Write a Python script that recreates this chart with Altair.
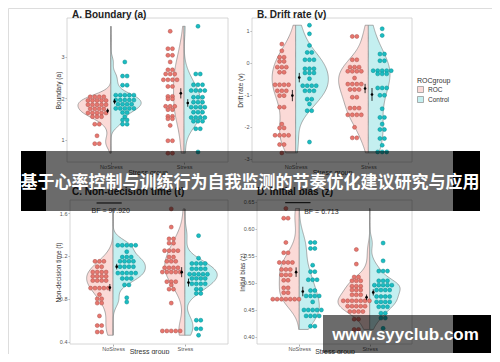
import altair as alt
import pandas as pd

W, H = 484, 346
STRESS = ["NoStress", "Stress"]
GROUPS = ["ROC", "Control"]
XDOM = [0.4, 2.6]

# ---- data: dot rows (value) and number of dots in each row ----
# Panel A: Boundary (a)
A_NS_ROC_V = [2.03, 1.94, 1.84, 1.74, 1.64, 1.55, 1.37, 1.09, 0.90]
A_NS_ROC_N = [4, 5, 5, 4, 5, 3, 2, 1, 2]
A_NS_CTL_V = [2.87, 2.53, 2.31, 2.07, 1.95, 1.85, 1.75, 1.65, 1.55, 1.47, 1.37]
A_NS_CTL_N = [1, 2, 2, 5, 5, 4, 5, 2, 1, 2, 2]
A_S_ROC_V = [3.61, 3.19, 3.03, 2.87, 2.68, 2.58, 2.44, 2.28, 2.04, 1.98, 1.80, 1.72, 1.56, 1.50, 1.34, 0.97, 0.67]
A_S_ROC_N = [1, 2, 2, 1, 2, 3, 4, 2, 2, 2, 3, 2, 2, 2, 1, 2, 2]
A_S_CTL_V = [3.73, 2.58, 2.32, 2.18, 2.02, 1.90, 1.78, 1.66, 1.53, 1.44, 1.26, 0.70]
A_S_CTL_N = [1, 2, 3, 4, 3, 3, 4, 3, 4, 3, 2, 1]

# Panel B: Drift rate (v)
B_NS_ROC_V = [0.59, 0.38, 0.18, 0.05, -0.13, -0.29, -0.68, -0.87, -1.02, -1.38, -1.91, -2.03, -2.26, -2.55, -2.81]
B_NS_ROC_N = [1, 1, 2, 2, 3, 2, 4, 3, 2, 2, 1, 2, 4, 2, 1]
B_NS_CTL_V = [1.18, 0.91, 0.55, 0.33, 0.10, -0.18, -0.31, -0.49, -0.71, -0.87, -1.13, -1.28, -1.49, -2.47]
B_NS_CTL_N = [1, 1, 1, 2, 3, 3, 3, 1, 4, 3, 2, 1, 2, 1]
B_S_ROC_V = [0.83, 0.10, -0.13, -0.26, -0.47, -0.66, -0.83, -1.07, -1.41, -1.62, -2.01, -2.34]
B_S_ROC_N = [2, 2, 3, 4, 1, 4, 3, 2, 3, 4, 1, 2]
B_S_CTL_V = [1.07, 0.86, 0.28, 0.07, -0.24, -0.34, -0.78, -1.01, -1.43, -1.70, -1.91, -2.08, -2.36, -2.57, -2.78]
B_S_CTL_N = [1, 1, 2, 2, 5, 3, 3, 2, 1, 2, 1, 2, 2, 1, 3]

# Panel C: Non-decision time (t)
C_NS_ROC_V = [1.15, 1.10, 1.05, 1.01, 0.97, 0.90, 0.84, 0.80, 0.76, 0.64, 0.55, 0.49]
C_NS_ROC_N = [3, 2, 4, 4, 4, 5, 1, 2, 2, 1, 2, 2]
C_NS_CTL_V = [1.30, 1.24, 1.19, 1.15, 1.10, 1.04, 0.99, 0.93, 0.81, 0.77]
C_NS_CTL_N = [5, 1, 3, 4, 4, 5, 3, 2, 1, 1]
C_S_ROC_V = [1.64, 1.47, 1.36, 1.32, 1.25, 1.19, 1.15, 1.09, 1.05, 0.96, 0.93, 0.89, 0.76, 0.50]
C_S_ROC_N = [1, 1, 2, 2, 4, 2, 3, 4, 5, 3, 1, 2, 1, 5]
C_S_CTL_V = [1.39, 1.18, 1.13, 1.08, 1.03, 0.99, 0.94, 0.89, 0.85, 0.60, 0.52, 0.46]
C_S_CTL_N = [1, 1, 4, 4, 5, 4, 4, 2, 2, 2, 2, 1]

# Panel D: Initial bias (z)
D_NS_ROC_V = [0.638, 0.620, 0.575, 0.556, 0.538, 0.525, 0.515, 0.505, 0.491, 0.482, 0.470]
D_NS_ROC_N = [1, 2, 1, 2, 4, 3, 3, 2, 2, 2, 7]
D_NS_CTL_V = [0.575, 0.564, 0.533, 0.521, 0.506, 0.486, 0.476, 0.465, 0.450, 0.439, 0.420]
D_NS_CTL_N = [2, 2, 1, 2, 3, 2, 4, 1, 5, 4, 2]
D_S_ROC_V = [0.562, 0.535, 0.511, 0.504, 0.494, 0.487, 0.478, 0.467, 0.457, 0.447, 0.433, 0.414]
D_S_ROC_N = [1, 1, 2, 3, 3, 3, 3, 7, 5, 4, 2, 2]
D_S_CTL_V = [0.574, 0.541, 0.522, 0.504, 0.496, 0.487, 0.475, 0.465, 0.456, 0.444, 0.435, 0.416]
D_S_CTL_N = [1, 1, 3, 3, 5, 4, 4, 4, 3, 2, 2, 1]

# Bayes-factor annotations (panels C and D)
BF_LABELS = ["BF = 97.920", "BF = 6.713"]
BF_LINE_X = [[0.77, 1.12], [0.80, 1.16]]
BF_LINE_Y = [1.695, 0.6487]
BF_TEXT_X = [0.70, 1.07]
BF_TEXT_Y = [1.623, 0.632]

BANNER_TEXT = "基于心率控制与训练行为自我监测的节奏优化建议研究与应用"
WATERMARK = "www.syyclub.com"

VIOLIN_FILL = ["#FBDAD7", "#C4EFF0"]
POINT_FILL = ["#E8766E", "#1ABDC2"]
POINT_STROKE = ["#A9534D", "#0B8A8E"]


def rows_df(spec):
    recs = []
    for (stress, roc), (vals, counts) in spec.items():
        for v, n in zip(vals, counts):
            for _ in range(n):
                recs.append({"stress": stress, "roc": roc, "v": v})
    return pd.DataFrame(recs)


PANELS = [
    dict(title="A. Boundary (a)", ytitle="Boundary (a)",
         rows={("NoStress", "ROC"): (A_NS_ROC_V, A_NS_ROC_N), ("NoStress", "Control"): (A_NS_CTL_V, A_NS_CTL_N),
               ("Stress", "ROC"): (A_S_ROC_V, A_S_ROC_N), ("Stress", "Control"): (A_S_CTL_V, A_S_CTL_N)},
         xrange=[59, 220], ydom=[0.458, 3.93], yrange=[154, 10], yticks=[1, 2, 3],
         ylab="format(datum.value, 'd')", title_xy=(64, 9.5), ytitle_x=-9, xtitle_y=10, legend=False),
    dict(title="B. Drift rate (v)", ytitle="Drift rate (v)",
         rows={("NoStress", "ROC"): (B_NS_ROC_V, B_NS_ROC_N), ("NoStress", "Control"): (B_NS_CTL_V, B_NS_CTL_N),
               ("Stress", "ROC"): (B_S_ROC_V, B_S_ROC_N), ("Stress", "Control"): (B_S_CTL_V, B_S_CTL_N)},
         xrange=[244, 404], ydom=[-3.094, 1.406], yrange=[154, 10], yticks=[-3, -2, -1, 0, 1],
         ylab="datum.value < 0 ? '-' + abs(datum.value) : '' + datum.value", title_xy=(249, 9.5), ytitle_x=-12,
         xtitle_y=10, legend=True),
    dict(title="C. Non-decision time (t)", ytitle="Non-decision time (t)",
         rows={("NoStress", "ROC"): (C_NS_ROC_V, C_NS_ROC_N), ("NoStress", "Control"): (C_NS_CTL_V, C_NS_CTL_N),
               ("Stress", "ROC"): (C_S_ROC_V, C_S_ROC_N), ("Stress", "Control"): (C_S_CTL_V, C_S_CTL_N)},
         xrange=[62, 220], ydom=[0.378, 1.723], yrange=[336, 192], yticks=[0.4, 0.8, 1.2, 1.6],
         ylab="format(datum.value, '.1f')", title_xy=(64, 187), ytitle_x=-12, xtitle_y=7.5, legend=False, bf=0),
    dict(title="D. Initial bias (z)", ytitle="Initial bias (z)",
         rows={("NoStress", "ROC"): (D_NS_ROC_V, D_NS_ROC_N), ("NoStress", "Control"): (D_NS_CTL_V, D_NS_CTL_N),
               ("Stress", "ROC"): (D_S_ROC_V, D_S_ROC_N), ("Stress", "Control"): (D_S_CTL_V, D_S_CTL_N)},
         xrange=[249, 404], ydom=[0.387, 0.6537], yrange=[336, 192], yticks=[0.40, 0.45, 0.50, 0.55, 0.60, 0.65],
         ylab="format(datum.value, '.2f')", title_xy=(249, 187), ytitle_x=-15, xtitle_y=7.5, legend=False, bf=1),
]

one = pd.DataFrame({"k": [0]})
layers = []

for p in PANELS:
    df = rows_df(p["rows"])
    xs = alt.Scale(domain=XDOM, range=p["xrange"], nice=False, zero=False)
    ys = alt.Scale(domain=p["ydom"], range=p["yrange"], nice=False, zero=False)

    frame_df = pd.DataFrame({"x0": [XDOM[0]], "x1": [XDOM[1]], "y0": [p["ydom"][0]], "y1": [p["ydom"][1]]})
    frame = alt.Chart(frame_df).mark_rect(fill="white", stroke="#cccccc", strokeWidth=0.8).encode(
        x=alt.X("x0:Q", scale=xs, axis=alt.Axis(
            orient="bottom", offset=p["yrange"][0] - H, values=[1, 2],
            labelExpr="datum.value == 1 ? 'NoStress' : 'Stress'", title="Stress group",
            grid=False, domain=False, tickSize=2, tickColor="#777777", tickWidth=0.6,
            labelFontSize=5.5, labelColor="#555555", labelPadding=0.5, labelFont="Liberation Sans",
            titleFontSize=7, titleFontWeight="normal", titleColor="#333333", titleFont="Liberation Sans",
            titleBaseline="middle", titleY=p["xtitle_y"])),
        x2="x1:Q",
        y=alt.Y("y0:Q", scale=ys, axis=alt.Axis(
            orient="left", offset=-p["xrange"][0], values=p["yticks"], labelExpr=p["ylab"],
            title=p["ytitle"], grid=False, domain=False, tickSize=2, tickColor="#777777", tickWidth=0.6,
            labelFontSize=5.5, labelColor="#555555", labelPadding=1, labelFont="Liberation Sans",
            titleFontSize=6.5, titleFontWeight="normal", titleColor="#333333", titleFont="Liberation Sans",
            titleBaseline="middle", titleX=p["ytitle_x"])),
        y2="y1:Q",
    )
    layers.append(frame)

    if p["legend"]:
        leg = alt.Legend(title="ROCgroup", orient="none", legendX=409, legendY=69, symbolType="square",
                         symbolSize=36, symbolStrokeColor="#8c8c8c", symbolStrokeWidth=0.7,
                         titleFontSize=7, titleFontWeight="normal", titleColor="#333333",
                         labelFontSize=6.5, labelColor="#333333", titlePadding=2, rowPadding=1,
                         padding=0, titleFont="Liberation Sans", labelFont="Liberation Sans")
    else:
        leg = None

    violin = alt.Chart(df).transform_density(
        "v", groupby=["stress", "roc"], as_=["val", "dens"], steps=120
    ).transform_joinaggregate(
        maxd="max(dens)"
    ).transform_calculate(
        xc="datum.stress == 'NoStress' ? 1 : 2"
    ).transform_calculate(
        xe="datum.xc + (datum.roc == 'ROC' ? -1 : 1) * datum.dens / datum.maxd * 0.45"
    ).mark_area(orient="horizontal", stroke="#8a8a8a", strokeWidth=0.7, opacity=1).encode(
        y=alt.Y("val:Q", scale=ys, axis=None),
        x=alt.X("xe:Q", scale=xs, axis=None),
        x2="xc:Q",
        fill=alt.Fill("roc:N", scale=alt.Scale(domain=GROUPS, range=VIOLIN_FILL), legend=leg),
        detail="stress:N",
    )
    layers.append(violin)

    pts = alt.Chart(df).transform_window(
        rk="row_number()", groupby=["stress", "roc", "v"]
    ).transform_joinaggregate(
        cnt="count()", groupby=["stress", "roc", "v"]
    ).transform_calculate(
        px="(datum.stress == 'NoStress' ? 1 : 2) + (datum.roc == 'ROC' ? -0.19 : 0.19)"
           " + (datum.rk - (datum.cnt + 1) / 2) * 0.062"
    ).mark_circle(size=16, opacity=1, strokeWidth=0.5).encode(
        x=alt.X("px:Q", scale=xs, axis=None),
        y=alt.Y("v:Q", scale=ys, axis=None),
        fill=alt.Fill("roc:N", scale=alt.Scale(domain=GROUPS, range=POINT_FILL), legend=None),
        stroke=alt.Stroke("roc:N", scale=alt.Scale(domain=GROUPS, range=POINT_STROKE), legend=None),
    )
    layers.append(pts)

    agg = alt.Chart(df).transform_aggregate(
        m="mean(v)", se="stderr(v)", groupby=["stress", "roc"]
    ).transform_calculate(
        mx="(datum.stress == 'NoStress' ? 1 : 2) + (datum.roc == 'ROC' ? -0.045 : 0.05)",
        lo="datum.m - datum.se", hi="datum.m + datum.se",
    )
    err = agg.mark_rule(color="black", strokeWidth=0.8).encode(
        x=alt.X("mx:Q", scale=xs, axis=None),
        y=alt.Y("lo:Q", scale=ys, axis=None),
        y2="hi:Q",
    )
    mean = agg.mark_circle(size=7, color="black", opacity=1).encode(
        x=alt.X("mx:Q", scale=xs, axis=None),
        y=alt.Y("m:Q", scale=ys, axis=None),
    )
    layers += [err, mean]

    if "bf" in p:
        i = p["bf"]
        bf_line = pd.DataFrame({"x0": [BF_LINE_X[i][0]], "x1": [BF_LINE_X[i][1]], "y": [BF_LINE_Y[i]]})
        layers.append(alt.Chart(bf_line).mark_rule(color="black", strokeWidth=1).encode(
            x=alt.X("x0:Q", scale=xs, axis=None), x2="x1:Q",
            y=alt.Y("y:Q", scale=ys, axis=None)))
        bf_txt = pd.DataFrame({"x": [BF_TEXT_X[i]], "y": [BF_TEXT_Y[i]], "t": [BF_LABELS[i]]})
        layers.append(alt.Chart(bf_txt).mark_text(
            align="left", baseline="middle", fontSize=7, color="#333333", font="Liberation Sans").encode(
            x=alt.X("x:Q", scale=xs, axis=None), y=alt.Y("y:Q", scale=ys, axis=None), text="t:N"))

    tx, ty = p["title_xy"]
    layers.append(alt.Chart(one).mark_text(
        align="left", baseline="alphabetic", fontSize=10, fontWeight="bold", color="#222222",
        font="Liberation Sans").encode(x=alt.value(tx), y=alt.value(ty), text=alt.value(p["title"])))

# ---- overlay banner ----
layers.append(alt.Chart(one).mark_rect(color="#000000", opacity=0.58).encode(
    x=alt.value(38), x2=alt.value(445), y=alt.value(143), y2=alt.value(203)))
layers.append(alt.Chart(one).mark_rect(color="#000000", opacity=1).encode(
    x=alt.value(13), x2=alt.value(38), y=alt.value(143), y2=alt.value(203)))
layers.append(alt.Chart(one).mark_rect(color="#000000", opacity=1).encode(
    x=alt.value(445), x2=alt.value(472), y=alt.value(143), y2=alt.value(203)))
layers.append(alt.Chart(one).mark_text(
    align="center", baseline="middle", fontSize=17, fontWeight="bold", color="white",
    font="Noto Sans CJK SC").encode(x=alt.value(242), y=alt.value(175), text=alt.value(BANNER_TEXT)))

# ---- watermark ----
layers.append(alt.Chart(one).mark_rect(color="#000000", opacity=0.58).encode(
    x=alt.value(315), x2=alt.value(445), y=alt.value(307), y2=alt.value(345)))
layers.append(alt.Chart(one).mark_rect(color="#000000", opacity=1).encode(
    x=alt.value(445), x2=alt.value(483), y=alt.value(307), y2=alt.value(345)))
layers.append(alt.Chart(one).mark_text(
    align="center", baseline="middle", fontSize=17, fontWeight="bold", color="white",
    font="Liberation Sans").encode(x=alt.value(397.5), y=alt.value(327), text=alt.value(WATERMARK)))

chart = alt.layer(*layers).resolve_scale(
    x="independent", y="independent", fill="independent", stroke="independent", color="independent"
).properties(
    width=W, height=H, padding=0, autosize=alt.AutoSizeParams(type="none")
).configure_view(stroke=None).configure(font="Liberation Sans", background="white")

chart.save("out.html", embed_options={"renderer": "svg", "actions": False})
